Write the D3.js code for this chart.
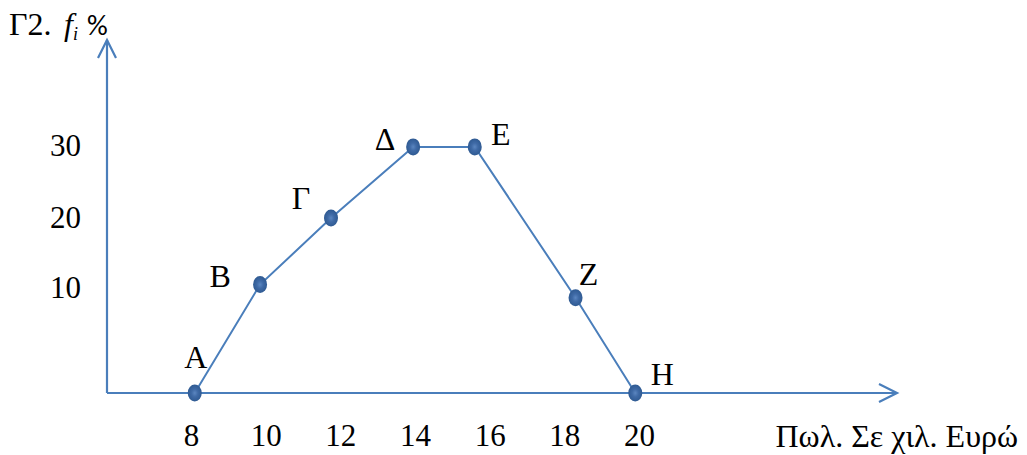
<!doctype html>
<html>
<head>
<meta charset="utf-8">
<title>Γ2 πολύγωνο συχνοτήτων</title>
<style>
  body { margin:0; background:#fff; }
  svg { display:block; }
  .lbl { font-family:"Liberation Serif","Times New Roman",serif; font-size:32px; fill:#000; }
  .tick text { font-family:"Liberation Serif","Times New Roman",serif; font-size:31px; fill:#000; }
  .axisline { stroke:#4a7ebb; stroke-width:2.2px; fill:none; }
  .poly { stroke:#4a7ebb; stroke-width:2px; fill:none; }
</style>
<script src="https://cdn.jsdelivr.net/npm/d3@7"></script>
</head>
<body>
<svg id="chart" width="1027" height="455"></svg>
<script>
// data
var names  = ["A", "B", "Γ", "Δ", "E", "Z", "H"]
var sales  = [8.1, 9.85, 11.75, 13.95, 15.6, 18.3, 19.9]
var freq   = [0, 10.2, 19.7, 29.6, 29.6, 8.9, 0]
var xTicks = [8, 10, 12, 14, 16, 18, 20]
var yTicks = [10, 20, 30]

// label offsets from their points (dx, dy of the text baseline)
var labelDx = [1, -40, -30, -28, 26, 13, 27]
var labelDy = [-25, 2, -9, 3, -2, -13, -8]

var svg = d3.select("#chart")

var x = d3.scaleLinear().domain([8, 20]).range([191, 639])
// the drawing has uneven spacing on the vertical axis
var y = d3.scaleLinear().domain([0, 10, 20, 30]).range([393, 286, 216, 144])

var x0 = 107, yTop = 40, xEnd = 897

// axes with open arrow heads
svg.append("path").attr("class", "axisline")
   .attr("d", "M" + x0 + "," + y(0) + "V" + yTop)
svg.append("path").attr("class", "axisline")
   .attr("d", "M" + (x0 - 9) + "," + (yTop + 18) + "L" + x0 + "," + yTop + "L" + (x0 + 9) + "," + (yTop + 18))
svg.append("path").attr("class", "axisline")
   .attr("d", "M" + x0 + "," + y(0) + "H" + xEnd)
svg.append("path").attr("class", "axisline")
   .attr("d", "M" + (xEnd - 18) + "," + (y(0) - 9) + "L" + xEnd + "," + y(0) + "L" + (xEnd - 18) + "," + (y(0) + 9))

// tick labels only
var gx = svg.append("g").attr("transform", "translate(0,424)")
   .call(d3.axisBottom(x).tickValues(xTicks).tickSize(0).tickPadding(0).tickFormat(d3.format("d")))
gx.select(".domain").remove()
gx.selectAll("text").attr("dy", "0.72em")

var gy = svg.append("g").attr("transform", "translate(81,0)")
   .call(d3.axisLeft(y).tickValues(yTicks).tickSize(0).tickPadding(0).tickFormat(d3.format("d")))
gy.select(".domain").remove()
gy.selectAll("text").attr("dy", "0.36em")

// polygon
var pts = sales.map(function(d, i) { return [x(d), y(freq[i])] })
svg.append("path").attr("class", "poly").attr("d", d3.line()(pts))

// markers
var grad = svg.append("defs").append("radialGradient").attr("id", "dot")
grad.append("stop").attr("offset", "0%").attr("stop-color", "#5b86c0")
grad.append("stop").attr("offset", "45%").attr("stop-color", "#3f6aa6")
grad.append("stop").attr("offset", "100%").attr("stop-color", "#2f5a92")

svg.selectAll("ellipse.pt").data(pts).enter().append("ellipse")
   .attr("class", "pt")
   .attr("cx", function(d) { return d[0] })
   .attr("cy", function(d) { return d[1] })
   .attr("rx", 7).attr("ry", 8.5)
   .attr("fill", "url(#dot)")

svg.selectAll("text.pl").data(pts).enter().append("text")
   .attr("class", "lbl pl")
   .attr("text-anchor", "middle")
   .attr("x", function(d, i) { return d[0] + labelDx[i] })
   .attr("y", function(d, i) { return d[1] + labelDy[i] })
   .text(function(d, i) { return names[i] })

// axis titles
svg.append("text").attr("class", "lbl").attr("x", 9).attr("y", 35).text("Γ2.")
var t = svg.append("text").attr("class", "lbl").attr("x", 64).attr("y", 35)
t.append("tspan").attr("font-style", "italic").text("f")
t.append("tspan").attr("font-style", "italic").attr("font-size", "18px").attr("dy", 5).text("i")
svg.append("text").attr("x", 87).attr("y", 35)
   .attr("font-family", "Carlito, 'Liberation Sans', sans-serif")
   .attr("font-size", "29px").text("%")

svg.append("text").attr("class", "lbl").attr("text-anchor", "end")
   .attr("x", 1018).attr("y", 447).attr("font-size", "28px")
   .text("Πωλ. Σε χιλ. Ευρώ")
</script>
</body>
</html>
